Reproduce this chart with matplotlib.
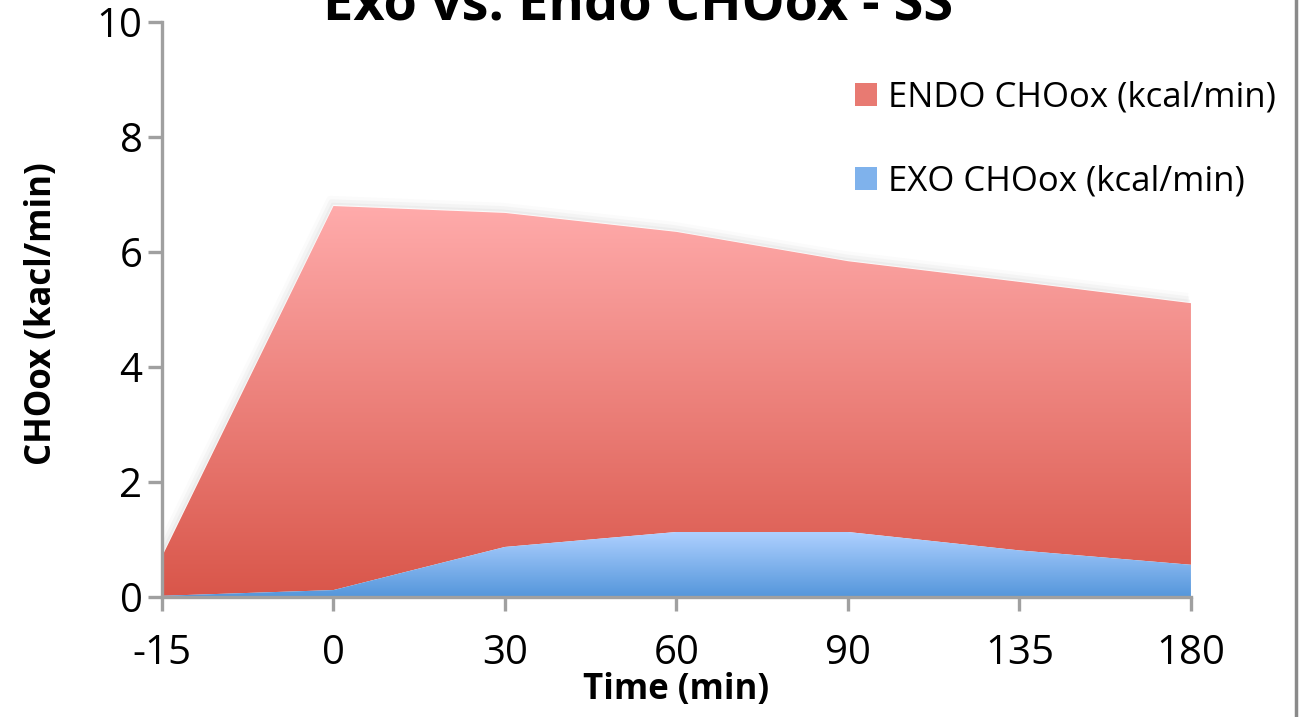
import numpy as np
import matplotlib.pyplot as plt
from matplotlib.colors import LinearSegmentedColormap
from matplotlib.patches import Patch
from matplotlib.lines import Line2D
import matplotlib.transforms as mtransforms

plt.rcParams['font.family'] = ['Open Sans', 'DejaVu Sans']

# Sampling times (min) and carbohydrate oxidation rates (kcal/min)
times = ['-15', '0', '30', '60', '90', '135', '180']
exo_choox = [0.02, 0.12, 0.87, 1.13, 1.13, 0.81, 0.56]
endo_choox = [0.68, 6.68, 5.81, 5.22, 4.71, 4.67, 4.55]

x = np.arange(len(times))
exo = np.array(exo_choox)
total = exo + np.array(endo_choox)

fig = plt.figure(figsize=(13.02, 7.17), dpi=100)
ax = fig.add_axes([0.1244, 0.1674, 0.7903, 0.8019])

red_cmap = LinearSegmentedColormap.from_list('endo', ['#d9564a', '#ffabab'])
blue_cmap = LinearSegmentedColormap.from_list('exo', ['#5496db', '#aed0ff'])


def gradient_fill(lower, upper, cmap, zorder):
    poly = ax.fill_between(x, lower, upper, facecolor='none', edgecolor='none', zorder=zorder)
    grad = np.linspace(0, 1, 256).reshape(-1, 1)
    im = ax.imshow(grad, cmap=cmap, origin='lower', aspect='auto',
                   extent=[x[0], x[-1], 0, upper.max()], zorder=zorder)
    im.set_clip_path(poly.get_paths()[0], transform=ax.transData)
    return im


# soft shadow along the top edge of the stack
for k, a in [(2, 0.07), (4, 0.05), (6, 0.03)]:
    off = mtransforms.offset_copy(ax.transData, fig=fig, x=-k * 0.5, y=k, units='dots')
    ax.plot(x, total, color='#888888', lw=k, alpha=a, transform=off, zorder=1,
            solid_capstyle='butt')

gradient_fill(exo, total, red_cmap, 2)
gradient_fill(np.zeros_like(exo), exo, blue_cmap, 3)

ax.set_xlim(x[0], x[-1])
ax.set_ylim(0, 10)
ax.set_xticks(x)
ax.set_xticklabels(times)
ax.set_yticks(np.arange(0, 11, 2))

for side in ['top', 'right']:
    ax.spines[side].set_visible(False)
for side in ['left', 'bottom']:
    ax.spines[side].set_color('#a0a0a0')
    ax.spines[side].set_linewidth(2.4)
    ax.spines[side].set_zorder(5)
ax.tick_params(axis='both', direction='out', length=10, width=2.4, color='#a0a0a0',
               labelsize=29, labelcolor='black')
ax.tick_params(axis='x', pad=16)
ax.tick_params(axis='y', pad=4)

ax.set_xlabel('Time (min)', fontsize=25, fontweight='bold', va='center')
ax.xaxis.set_label_coords(0.5, -0.162)
ax.set_ylabel('CHOox (kacl/min)', fontsize=25, fontweight='bold', va='center')
ax.yaxis.set_label_coords(-0.1166, 0.492)

fig.text(0.49, 0.993, 'Exo vs. Endo CHOox - SS', ha='center', va='center',
         fontsize=39, fontweight='bold')

handles = [Patch(facecolor='#e87a72', edgecolor='none'),
           Patch(facecolor='#7fb2ec', edgecolor='none')]
ax.legend(handles, ['ENDO CHOox (kcal/min)', 'EXO CHOox (kcal/min)'],
          loc='upper left', bbox_to_anchor=(0.643, 0.953), frameon=False,
          fontsize=25, handlelength=0.65, handleheight=0.65, handletextpad=0.3,
          labelspacing=1.45)

# frame line at the right edge of the figure
fig.add_artist(Line2D([0.9955, 0.9955], [0, 1], color='#8a8a8a', lw=2.5,
                      transform=fig.transFigure))

fig.savefig('out.png', dpi=100)
